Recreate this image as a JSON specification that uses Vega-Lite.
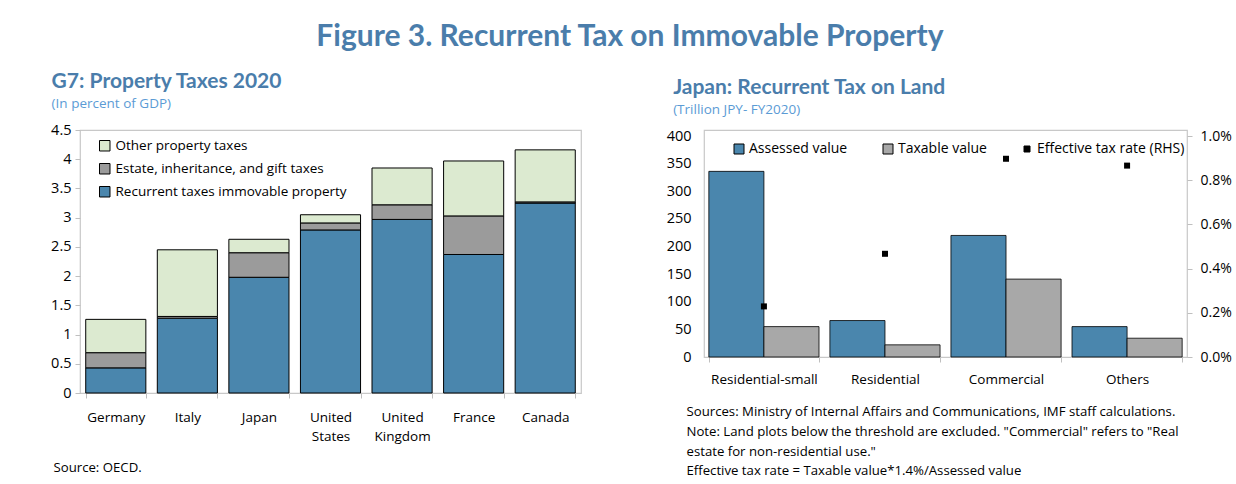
{
  "$schema": "https://vega.github.io/schema/vega-lite/v6.json",
  "background": "white",
  "padding": {"left": 50, "top": 21, "right": 2, "bottom": 0},
  "title": {
    "text": "Figure 3. Recurrent Tax on Immovable Property",
    "anchor": "middle",
    "font": "Lato",
    "fontSize": 30,
    "fontWeight": "bold",
    "color": "#4a7dab",
    "dx": -11,
    "offset": 18
  },
  "config": {
    "font": "Open Sans",
    "view": {"stroke": "#c8c8c8", "strokeWidth": 1.2},
    "axis": {
      "labelFont": "Open Sans",
      "labelFontSize": 13.5,
      "labelColor": "black",
      "grid": false,
      "domain": false,
      "tickColor": "#bfbfbf",
      "titleFont": "Open Sans",
      "titleColor": "black",
      "titleFontWeight": "normal",
      "titleFontSize": 13.2
    },
    "legend": {
      "labelFont": "Open Sans",
      "labelFontSize": 13.5,
      "labelColor": "black",
      "labelLimit": 400,
      "symbolType": "square",
      "symbolStrokeColor": "black",
      "symbolStrokeWidth": 1,
      "padding": 0
    }
  },
  "resolve": {"scale": {"color": "independent"}, "legend": {"color": "independent"}},
  "datasets": {
    "g7": [
      {"country": "Germany", "component": "Recurrent taxes immovable property", "stack_order": 1, "value": 0.43},
      {"country": "Germany", "component": "Estate, inheritance, and gift taxes", "stack_order": 2, "value": 0.26},
      {"country": "Germany", "component": "Other property taxes", "stack_order": 3, "value": 0.57},
      {"country": "Italy", "component": "Recurrent taxes immovable property", "stack_order": 1, "value": 1.28},
      {"country": "Italy", "component": "Estate, inheritance, and gift taxes", "stack_order": 2, "value": 0.03},
      {"country": "Italy", "component": "Other property taxes", "stack_order": 3, "value": 1.14},
      {"country": "Japan", "component": "Recurrent taxes immovable property", "stack_order": 1, "value": 1.98},
      {"country": "Japan", "component": "Estate, inheritance, and gift taxes", "stack_order": 2, "value": 0.42},
      {"country": "Japan", "component": "Other property taxes", "stack_order": 3, "value": 0.23},
      {"country": "United States", "component": "Recurrent taxes immovable property", "stack_order": 1, "value": 2.79},
      {"country": "United States", "component": "Estate, inheritance, and gift taxes", "stack_order": 2, "value": 0.12},
      {"country": "United States", "component": "Other property taxes", "stack_order": 3, "value": 0.14},
      {"country": "United Kingdom", "component": "Recurrent taxes immovable property", "stack_order": 1, "value": 2.97},
      {"country": "United Kingdom", "component": "Estate, inheritance, and gift taxes", "stack_order": 2, "value": 0.25},
      {"country": "United Kingdom", "component": "Other property taxes", "stack_order": 3, "value": 0.63},
      {"country": "France", "component": "Recurrent taxes immovable property", "stack_order": 1, "value": 2.37},
      {"country": "France", "component": "Estate, inheritance, and gift taxes", "stack_order": 2, "value": 0.66},
      {"country": "France", "component": "Other property taxes", "stack_order": 3, "value": 0.94},
      {"country": "Canada", "component": "Recurrent taxes immovable property", "stack_order": 1, "value": 3.25},
      {"country": "Canada", "component": "Estate, inheritance, and gift taxes", "stack_order": 2, "value": 0.02},
      {"country": "Canada", "component": "Other property taxes", "stack_order": 3, "value": 0.89}
    ],
    "land_bars": [
      {"category": "Residential-small", "series": "Assessed value", "value": 336},
      {"category": "Residential-small", "series": "Taxable value", "value": 55},
      {"category": "Residential", "series": "Assessed value", "value": 66},
      {"category": "Residential", "series": "Taxable value", "value": 22},
      {"category": "Commercial", "series": "Assessed value", "value": 220},
      {"category": "Commercial", "series": "Taxable value", "value": 141},
      {"category": "Others", "series": "Assessed value", "value": 55},
      {"category": "Others", "series": "Taxable value", "value": 34}
    ],
    "land_rate": [
      {"category": "Residential-small", "rate": 0.00229},
      {"category": "Residential", "rate": 0.00467},
      {"category": "Commercial", "rate": 0.00897},
      {"category": "Others", "rate": 0.00866}
    ]
  },
  "hconcat": [
    {
      "title": {
        "text": "G7: Property Taxes 2020",
        "subtitle": "(In percent of GDP)",
        "anchor": "start",
        "dx": 1,
        "font": "Lato",
        "fontSize": 21,
        "fontWeight": "bold",
        "color": "#4a7dab",
        "subtitleFont": "Open Sans",
        "subtitleFontSize": 13.5,
        "subtitleColor": "#5b9bd5",
        "subtitlePadding": 5,
        "offset": 12
      },
      "width": 501,
      "height": 263,
      "data": {"name": "g7"},
      "mark": {"type": "bar", "stroke": "black", "strokeWidth": 1},
      "encoding": {
        "x": {
          "field": "country",
          "type": "nominal",
          "sort": ["Germany", "Italy", "Japan", "United States", "United Kingdom", "France", "Canada"],
          "scale": {"paddingInner": 0.16, "paddingOuter": 0.08},
          "axis": {
            "labelAngle": 0,
            "labelExpr": "split(datum.label, ' ')",
            "labelPadding": 12,
            "labelLineHeight": 19,
            "labelBaseline": "top",
            "ticks": true,
            "tickBand": "extent",
            "tickSize": 5,
            "title": "Source: OECD.",
            "titleAnchor": "start",
            "titleAlign": "left",
            "titleX": -27,
            "titlePadding": 19
          }
        },
        "y": {
          "field": "value",
          "type": "quantitative",
          "stack": "zero",
          "scale": {"domain": [0, 4.5], "nice": false},
          "axis": {
            "values": [0, 0.5, 1, 1.5, 2, 2.5, 3, 3.5, 4, 4.5],
            "format": "~g",
            "title": null,
            "tickSize": 5,
            "labelPadding": 4,
            "labelFontSize": 14.5
          }
        },
        "order": {"field": "stack_order", "type": "quantitative"},
        "color": {
          "field": "component",
          "type": "nominal",
          "sort": ["Recurrent taxes immovable property", "Estate, inheritance, and gift taxes", "Other property taxes"],
          "scale": {"range": ["#4a86ad", "#9b9b9b", "#dcead0"]},
          "legend": {
            "title": null,
            "values": ["Other property taxes", "Estate, inheritance, and gift taxes", "Recurrent taxes immovable property"],
            "orient": "none",
            "direction": "vertical",
            "legendX": 18,
            "legendY": 9,
            "symbolSize": 110,
            "rowPadding": 8,
            "labelOffset": 4
          }
        }
      }
    },
    {
      "title": {
        "text": "Japan: Recurrent Tax on Land",
        "subtitle": "(Trillion JPY- FY2020)",
        "anchor": "start",
        "dx": 7,
        "font": "Lato",
        "fontSize": 21,
        "fontWeight": "bold",
        "color": "#4a7dab",
        "subtitleFont": "Open Sans",
        "subtitleFontSize": 13.5,
        "subtitleColor": "#5b9bd5",
        "subtitlePadding": 5,
        "offset": 12
      },
      "width": 483,
      "height": 227,
      "layer": [
        {
          "data": {"name": "land_bars"},
          "mark": {"type": "bar", "stroke": "black", "strokeWidth": 0.8},
          "encoding": {
            "x": {
              "field": "category",
              "type": "nominal",
              "sort": ["Residential-small", "Residential", "Commercial", "Others"],
              "scale": {"paddingInner": 0.09, "paddingOuter": 0.04},
              "axis": {
                "labelAngle": 0,
                "labelPadding": 10,
                "labelBaseline": "top",
                "ticks": true,
                "tickBand": "extent",
                "tickSize": 5,
                "title": [
                  "Sources: Ministry of Internal Affairs and Communications, IMF staff calculations.",
                  "Note: Land plots below the threshold are excluded. \"Commercial\" refers to \"Real",
                  "estate for non-residential use.\"",
                  "Effective tax rate = Taxable value*1.4%/Assessed value"
                ],
                "titleAnchor": "start",
                "titleAlign": "left",
                "titleX": -18,
                "titlePadding": 20,
                "titleLineHeight": 19.8
              }
            },
            "xOffset": {
              "field": "series",
              "type": "nominal",
              "sort": ["Assessed value", "Taxable value"],
              "scale": {"paddingInner": 0, "paddingOuter": 0}
            },
            "y": {
              "field": "value",
              "type": "quantitative",
              "scale": {"domain": [0, 400], "range": [227, 6], "nice": false},
              "axis": {
                "values": [0, 50, 100, 150, 200, 250, 300, 350, 400],
                "title": null,
                "ticks": false,
                "labelPadding": 13,
                "labelFontSize": 14.5
              }
            },
            "color": {
              "field": "series",
              "type": "nominal",
              "scale": {
                "domain": ["Assessed value", "Taxable value", "Effective tax rate (RHS)"],
                "range": ["#4a86ad", "#a8a8a8", "black"]
              },
              "legend": {
                "title": null,
                "orient": "none",
                "direction": "horizontal",
                "legendX": 28,
                "legendY": 12,
                "columnPadding": 33,
                "labelOffset": 3,
                "labelFontSize": 14,
                "symbolSize": 100,
                "encode": {
                  "symbols": {
                    "update": {
                      "size": {"signal": "datum.value === 'Effective tax rate (RHS)' ? 36 : 100"}
                    }
                  }
                }
              }
            }
          }
        },
        {
          "data": {"name": "land_rate"},
          "mark": {"type": "point", "shape": "square", "filled": true, "size": 36, "opacity": 1},
          "encoding": {
            "x": {
              "field": "category",
              "type": "nominal",
              "sort": ["Residential-small", "Residential", "Commercial", "Others"]
            },
            "y": {
              "field": "rate",
              "type": "quantitative",
              "scale": {"domain": [0, 0.01], "range": [227, 6], "nice": false},
              "axis": {
                "orient": "right",
                "values": [0, 0.002, 0.004, 0.006, 0.008, 0.01],
                "format": ".1%",
                "title": null,
                "tickSize": 5,
                "labelPadding": 8,
                "labelFontSize": 14
              }
            },
            "color": {"datum": "Effective tax rate (RHS)"}
          }
        }
      ],
      "resolve": {"scale": {"y": "independent"}}
    }
  ],
  "spacing": 83
}
